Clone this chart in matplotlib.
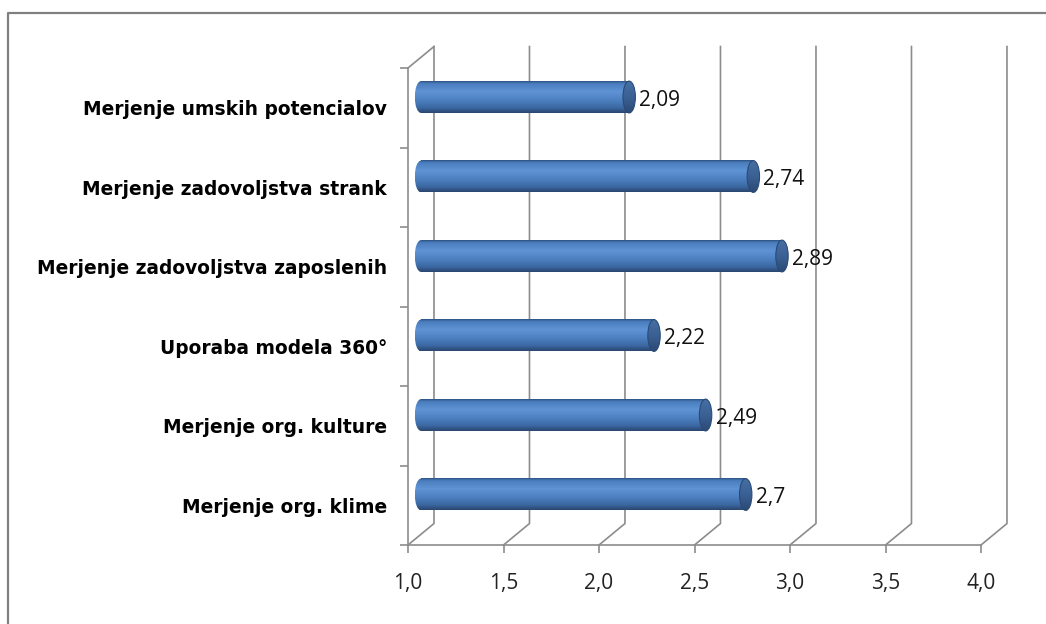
import numpy as np
import matplotlib.pyplot as plt
from matplotlib.patches import Ellipse
from matplotlib.lines import Line2D
from matplotlib.colors import LinearSegmentedColormap

categories = [
    "Merjenje org. klime",
    "Merjenje org. kulture",
    "Uporaba modela 360°",
    "Merjenje zadovoljstva zaposlenih",
    "Merjenje zadovoljstva strank",
    "Merjenje umskih potencialov",
]
values = [2.70, 2.49, 2.22, 2.89, 2.74, 2.09]
value_labels = ["2,7", "2,49", "2,22", "2,89", "2,74", "2,09"]
x_ticks = [1.0, 1.5, 2.0, 2.5, 3.0, 3.5, 4.0]
x_tick_labels = ["1,0", "1,5", "2,0", "2,5", "3,0", "3,5", "4,0"]

gray = "#8c8c8c"
# 3D depth of the plot box, in data units
dx = 0.136
dy = 0.27
bar_h = 0.40
cap_w = 0.065

# cylinder shading (top to bottom)
body_cmap = LinearSegmentedColormap.from_list("body", [
    (0.00, "#2f5486"), (0.07, "#4a7dbd"), (0.33, "#5e93d5"),
    (0.60, "#4d80c0"), (0.84, "#3b68a2"), (1.00, "#2a466f")])
cap_cmap = LinearSegmentedColormap.from_list("cap", [
    (0.0, "#466fa3"), (0.5, "#3b6194"), (1.0, "#2b4a76")])
grad = np.linspace(0, 1, 64).reshape(-1, 1)

fig = plt.figure(figsize=(10.46, 6.24), dpi=100)
ax = fig.add_axes([408 / 1046, 79 / 624, 573 / 1046, 477 / 624])

# back wall gridlines with slanted floor segments
grid_kw = dict(color=gray, lw=1.2, clip_on=False, zorder=1)
for x in x_ticks:
    ax.plot([x, x + dx, x + dx], [-0.5, -0.5 + dy, 5.5 + dy], **grid_kw)
ax.plot([1.0, 1.0 + dx], [5.5, 5.5 + dy], **grid_kw)

# cylinders
for i, v in enumerate(values):
    yc = i + dy / 2
    x0 = 1.0 + dx / 2
    x1 = v + dx / 2
    y0, y1 = yc - bar_h / 2, yc + bar_h / 2
    left_end = Ellipse((x0, yc), cap_w, bar_h, transform=ax.transData)
    im = ax.imshow(grad, cmap=body_cmap, extent=(x0 - cap_w / 2, x0, y0, y1),
                   aspect="auto", zorder=3, interpolation="bilinear")
    im.set_clip_path(left_end)
    ax.imshow(grad, cmap=body_cmap, extent=(x0, x1, y0, y1),
              aspect="auto", zorder=3, interpolation="bilinear")
    right_end = Ellipse((x1, yc), cap_w, bar_h, transform=ax.transData)
    im = ax.imshow(grad, cmap=cap_cmap, extent=(x1 - cap_w / 2, x1 + cap_w / 2, y0, y1),
                   aspect="auto", zorder=4, interpolation="bilinear")
    im.set_clip_path(right_end)
    ax.add_patch(Ellipse((x1, yc), cap_w, bar_h, fill=False, ec="#2a4a78", lw=0.8, zorder=5))
    ax.text(x1 + cap_w / 2 + 0.02, yc - 0.04, value_labels[i], ha="left", va="center",
            fontsize=15, family="Open Sans", color="#111111", zorder=6)

ax.set_xlim(1.0, 4.0)
ax.set_ylim(-0.5, 5.5)

for side in ["top", "right"]:
    ax.spines[side].set_visible(False)
for side in ["left", "bottom"]:
    ax.spines[side].set_color(gray)
    ax.spines[side].set_linewidth(1.2)

ax.set_xticks(x_ticks, x_tick_labels)
ax.set_yticks(range(len(categories)), categories)
ax.set_yticks(np.arange(-0.5, 6, 1), minor=True)
ax.tick_params(axis="x", length=6, width=1.2, color=gray, pad=14, labelsize=15)
ax.tick_params(axis="y", which="major", length=0, pad=15)
ax.tick_params(axis="y", which="minor", length=6, width=1.2, color=gray)
for lab in ax.get_xticklabels():
    lab.set_fontfamily("Open Sans")
    lab.set_color("#222222")
for lab in ax.get_yticklabels():
    lab.set_fontfamily("DejaVu Sans")
    lab.set_fontweight("bold")
    lab.set_fontsize(13.4)

# outer chart frame (cut off at right and bottom)
fig.add_artist(Line2D([7.5 / 1046, 7.5 / 1046, 1.01], [-0.01, 1 - 12.5 / 624, 1 - 12.5 / 624],
                      transform=fig.transFigure, color="#808080", lw=1.6))

fig.savefig("out.png", dpi=100)
